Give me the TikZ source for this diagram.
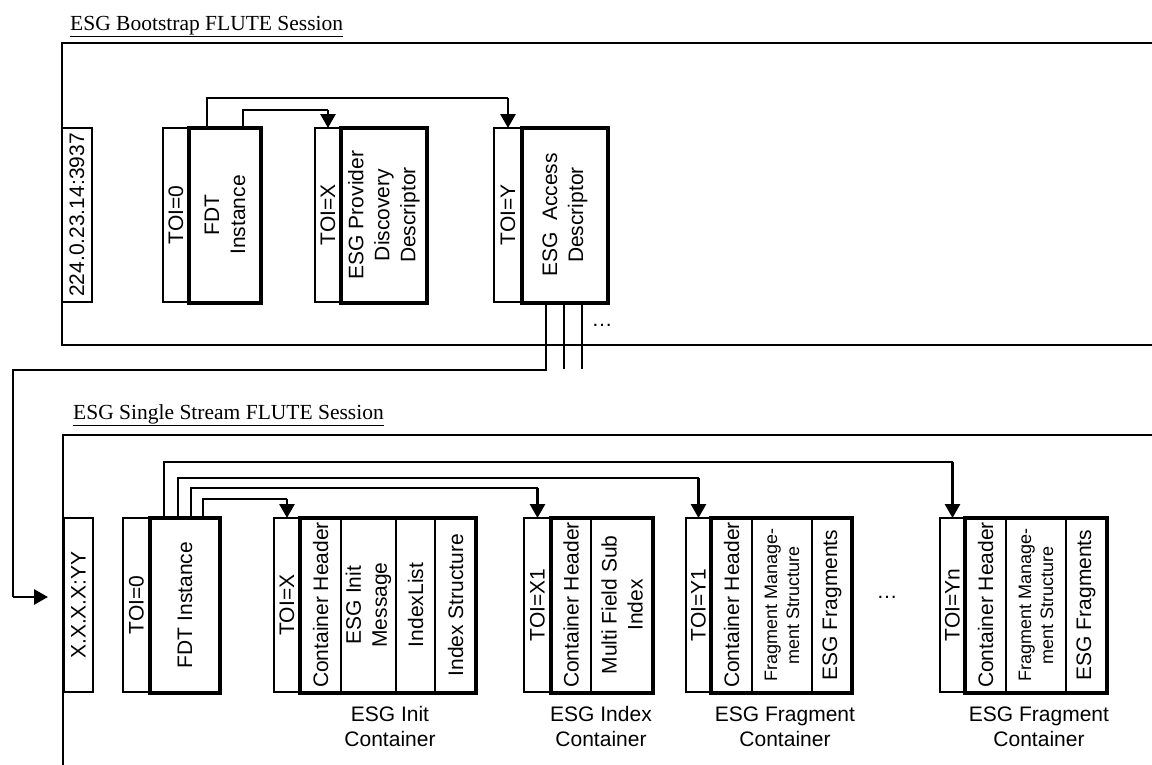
\documentclass[tikz,border=0pt]{standalone}
\usepackage{fontspec}
\setmainfont{Liberation Serif}
\newfontfamily\arialfont{Liberation Sans}
\usetikzlibrary{arrows.meta,calc}

\begin{document}
\begin{tikzpicture}[x=1pt, y=-1pt,
        session/.style={rectangle, draw, line width=1.2pt, inner sep=0pt, outer sep=0pt},
        title/.style={anchor=base west, inner sep=0pt, font=\fontsize{21.5}{26}\selectfont},
        toibox/.style={rectangle, draw, line width=1.2pt, inner sep=0pt, outer sep=0pt, minimum height=174pt},
        heavybox/.style={rectangle, draw, line width=4pt, inner sep=0pt, outer sep=0pt, minimum height=175pt},
        vtext/.style={rotate=90, align=center, inner sep=0pt, font=\arialfont\fontsize{21}{26}\selectfont},
        smalltext/.style={rotate=90, align=center, inner sep=0pt, font=\arialfont\fontsize{18}{22}\selectfont},
        caption/.style={align=center, inner sep=0pt, font=\arialfont\fontsize{21}{25}\selectfont},
        link/.style={line width=1.2pt},
        arrow/.style={-{Triangle[width=15pt,length=14pt]}, line width=2.8pt}
    ]
        \useasboundingbox (0,0) rectangle (1152,764);
        \clip (0,0) rectangle (1152,764);

        % bootstrap session
        \node[title] (boottitle) at (70,30) {\underline{ESG Bootstrap FLUTE Session}};
        \node[session, minimum width=1150pt, minimum height=302pt] (boot) at (637,194) {};

        \node[toibox, minimum width=30pt] (addra) at (77,215) {};
        \node[vtext] (addra-t) at (addra) {224.0.23.14:3937};
        \node[toibox, minimum width=26pt] (toia0) at (176,215) {};
        \node[vtext] (toia0-t) at (toia0) {TOI=0};
        \node[heavybox, minimum width=72pt] (fdta) at (225,215) {};
        \node[vtext] (fdta-t) at (fdta) {FDT\\Instance};
        \node[toibox, minimum width=26pt] (toiax) at (328,215) {};
        \node[vtext] (toiax-t) at (toiax) {TOI=X};
        \node[heavybox, minimum width=86pt] (pdd) at (384,215) {};
        \node[vtext] (pdd-t) at (pdd) {ESG Provider\\Discovery\\Descriptor};
        \node[toibox, minimum width=28pt] (toiay) at (508,215) {};
        \node[vtext] (toiay-t) at (toiay) {TOI=Y};
        \node[heavybox, minimum width=86pt] (ead) at (565,215) {};
        \node[vtext] (ead-t) at (ead) {ESG\ \ Access\\Descriptor};
        \node[caption] (eadmore) at (602,325) {\ldots};

        \coordinate (benday) at ($(toiay.north)+(0,-30)$);
        \coordinate (bendax) at ($(toiax.north)+(0,-18)$);
        \draw[link] ($(fdta.north west)+(18,0)$) |- (benday);
        \draw[arrow] (benday) -- (toiay.north);
        \draw[link] ($(fdta.north west)+(54,0)$) |- (bendax);
        \draw[arrow] (bendax) -- (toiax.north);

        % single stream session
        \node[title] (ssstitle) at (73,419) {\underline{ESG Single Stream FLUTE Session}};
        \node[session, minimum width=1150pt, minimum height=400pt] (sss) at (638,635) {};

        \node[toibox, minimum width=29pt] (addrb) at (78.5,605) {};
        \node[vtext] (addrb-t) at (addrb) {X.X.X.X:YY};
        \node[toibox, minimum width=27pt] (toib0) at (136.5,605) {};
        \node[vtext] (toib0-t) at (toib0) {TOI=0};
        \node[heavybox, minimum width=70pt] (fdtb) at (185,605) {};
        \node[vtext] (fdtb-t) at (fdtb) {FDT Instance};

        \node[toibox, minimum width=26pt] (toibx) at (287,605) {};
        \node[vtext] (toibx-t) at (toibx) {TOI=X};
        \node[heavybox, minimum width=176pt] (initc) at (388,605) {};
        \draw[link] ($(initc.north west)+(41,0)$) -- ($(initc.south west)+(41,0)$);
        \draw[link] ($(initc.north west)+(96,0)$) -- ($(initc.south west)+(96,0)$);
        \draw[link] ($(initc.north west)+(135,0)$) -- ($(initc.south west)+(135,0)$);
        \node[vtext] (initc-1) at ($(initc.west)+(20.5,0)$) {Container Header};
        \node[vtext] (initc-2) at ($(initc.west)+(68.5,0)$) {ESG Init\\Message};
        \node[vtext] (initc-3) at ($(initc.west)+(115.5,0)$) {IndexList};
        \node[vtext] (initc-4) at ($(initc.west)+(155.5,0)$) {Index Structure};
        \node[caption] (initc-c) at ($(initc.south)+(2,34)$) {ESG Init\\Container};

        \node[toibox, minimum width=27pt] (toibx1) at (537.5,605) {};
        \node[vtext] (toibx1-t) at (toibx1) {TOI=X1};
        \node[heavybox, minimum width=102pt] (idxc) at (602,605) {};
        \draw[link] ($(idxc.north west)+(40,0)$) -- ($(idxc.south west)+(40,0)$);
        \node[vtext] (idxc-1) at ($(idxc.west)+(20,0)$) {Container Header};
        \node[vtext] (idxc-2) at ($(idxc.west)+(71,0)$) {Multi Field Sub\\Index};
        \node[caption] (idxc-c) at ($(idxc.south)+(-1,34)$) {ESG Index\\Container};

        \node[toibox, minimum width=25pt] (toiby1) at (698.5,605) {};
        \node[vtext] (toiby1-t) at (toiby1) {TOI=Y1};
        \node[heavybox, minimum width=141pt] (fragc) at (781.5,605) {};
        \draw[link] ($(fragc.north west)+(41,0)$) -- ($(fragc.south west)+(41,0)$);
        \draw[link] ($(fragc.north west)+(101,0)$) -- ($(fragc.south west)+(101,0)$);
        \node[vtext] (fragc-1) at ($(fragc.west)+(20.5,0)$) {Container Header};
        \node[smalltext] (fragc-2) at ($(fragc.west)+(71,0)$) {Fragment Manage-\\ment Structure};
        \node[vtext] (fragc-3) at ($(fragc.west)+(121,0)$) {ESG Fragments};
        \node[caption] (fragc-c) at ($(fragc.south)+(3.5,34)$) {ESG Fragment\\Container};

        \node[caption] (fragmore) at (887,597) {\ldots};

        \node[toibox, minimum width=25pt] (toibyn) at (952.5,605) {};
        \node[vtext] (toibyn-t) at (toibyn) {TOI=Yn};
        \node[heavybox, minimum width=142pt] (fragd) at (1036,605) {};
        \draw[link] ($(fragd.north west)+(41,0)$) -- ($(fragd.south west)+(41,0)$);
        \draw[link] ($(fragd.north west)+(101,0)$) -- ($(fragd.south west)+(101,0)$);
        \node[vtext] (fragd-1) at ($(fragd.west)+(20.5,0)$) {Container Header};
        \node[smalltext] (fragd-2) at ($(fragd.west)+(71,0)$) {Fragment Manage-\\ment Structure};
        \node[vtext] (fragd-3) at ($(fragd.west)+(121,0)$) {ESG Fragments};
        \node[caption] (fragd-c) at ($(fragd.south)+(3,34)$) {ESG Fragment\\Container};

        \coordinate (bendbyn) at ($(toibyn.north)+(0,-56)$);
        \coordinate (bendby1) at ($(toiby1.north)+(0,-40)$);
        \coordinate (bendbx1) at ($(toibx1.north)+(0,-30)$);
        \coordinate (bendbx) at ($(toibx.north)+(0,-19)$);
        \draw[link] ($(fdtb.north west)+(14,0)$) |- (bendbyn);
        \draw[arrow] (bendbyn) -- (toibyn.north);
        \draw[link] ($(fdtb.north west)+(28,0)$) |- (bendby1);
        \draw[arrow] (bendby1) -- (toiby1.north);
        \draw[link] ($(fdtb.north west)+(41,0)$) |- (bendbx1);
        \draw[arrow] (bendbx1) -- (toibx1.north);
        \draw[link] ($(fdtb.north west)+(53,0)$) |- (bendbx);
        \draw[arrow] (bendbx) -- (toibx.north);

        % access descriptor feeds the single stream session
        \coordinate (entry) at ($(addrb.west)+(-16,-8)$);
        \coordinate (feed) at (13,370);
        \coordinate (feedcorner) at (feed |- entry);
        \draw[link] ($(ead.south west)+(24,0)$) |- (feed) -- (feedcorner);
        \draw[arrow] (feedcorner) -- (entry);
        \draw[link] ($(ead.south west)+(42,0)$) -- ++(0,66);
        \draw[link] ($(ead.south west)+(60,0)$) -- ++(0,66);
    \end{tikzpicture}
\end{document}
